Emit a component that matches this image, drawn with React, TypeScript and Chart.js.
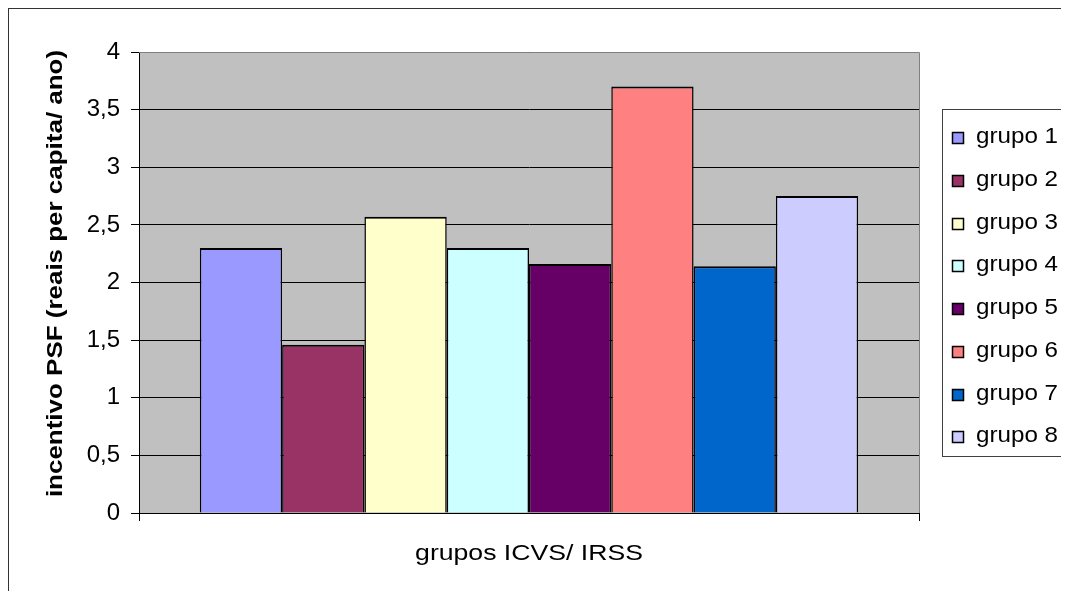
import React, { useEffect, useRef } from "react";
import { Chart, registerables } from "chart.js";

Chart.register(...registerables);

const categories: string[] = [""];
const seriesNames: string[] = ["grupo 1", "grupo 2", "grupo 3", "grupo 4", "grupo 5", "grupo 6", "grupo 7", "grupo 8"];
const seriesValues: number[] = [2.3, 1.46, 2.57, 2.3, 2.16, 3.7, 2.14, 2.75];
const seriesColors: string[] = ["#9999FF", "#993366", "#FFFFCC", "#CCFFFF", "#660066", "#FF8080", "#0066CC", "#CCCCFF"];
const yTitle = "incentivo PSF (reais per capita/ ano)";
const xTitle = "grupos ICVS/ IRSS";

const FONT = 'Arial, "Liberation Sans", sans-serif';

function stretchedText(
  ctx: CanvasRenderingContext2D,
  text: string,
  x: number,
  y: number,
  font: string,
  sx: number,
  rot: number,
  align: CanvasTextAlign,
  baseline: CanvasTextBaseline
) {
  ctx.save();
  ctx.translate(x, y);
  ctx.rotate(rot);
  ctx.scale(sx, 1);
  ctx.font = font;
  ctx.textAlign = align;
  ctx.textBaseline = baseline;
  ctx.fillStyle = "#000";
  ctx.fillText(text, 0, 0);
  ctx.restore();
}

const decor = {
  id: "decor",
  beforeDraw(chart: any) {
    const { ctx, chartArea: a } = chart;
    ctx.save();
    ctx.fillStyle = "#C0C0C0";
    ctx.fillRect(a.left, a.top, a.right - a.left, a.bottom - a.top);
    ctx.restore();
  },
  afterDraw(chart: any) {
    const { ctx, chartArea: a } = chart;
    ctx.save();
    ctx.strokeStyle = "#808080";
    ctx.lineWidth = 1;
    ctx.beginPath();
    ctx.moveTo(a.left, a.top + 0.5);
    ctx.lineTo(a.right + 0.5, a.top + 0.5);
    ctx.lineTo(a.right + 0.5, a.bottom);
    ctx.stroke();
    ctx.restore();

    // axis titles
    stretchedText(ctx, yTitle, 46.5, (a.top + a.bottom) / 2 - 9, "bold 22px " + FONT, 1.18, -Math.PI / 2, "center", "middle");
    stretchedText(ctx, xTitle, (a.left + a.right) / 2, 551, "22px " + FONT, 1.21, 0, "center", "alphabetic");

    // legend
    ctx.save();
    const lx = 933, ly = 100, lb = 447;
    ctx.strokeStyle = "#404040";
    ctx.lineWidth = 1;
    ctx.strokeRect(lx + 0.5, ly + 0.5, chart.width + 20, lb - ly);
    chart.data.datasets.forEach((ds: any, i: number) => {
      const base = 134.3 + 42.7 * i;
      const by = Math.round(base - 11) + 0.5;
      ctx.fillStyle = ds.backgroundColor;
      ctx.fillRect(943.5, by, 11, 11);
      ctx.strokeStyle = "#000";
      ctx.lineWidth = 1.5;
      ctx.strokeRect(943.5, by, 11, 11);
      stretchedText(ctx, ds.label, 967, base, "22px " + FONT, 1.1, 0, "left", "alphabetic");
    });
    ctx.restore();
  },
};

export default function App() {
  const ref = useRef<HTMLCanvasElement | null>(null);
  useEffect(() => {
    if (!ref.current) return;
    const chart = new Chart(ref.current, {
      type: "bar",
      data: {
        labels: categories,
        datasets: seriesNames.map((name, i) => ({
          label: name,
          data: [seriesValues[i]],
          backgroundColor: seriesColors[i],
          borderColor: "#000000",
          borderWidth: { top: 2, left: 1.5, right: 1.5, bottom: 0 },
          borderSkipped: false,
          barPercentage: 1,
          categoryPercentage: 0.844,
        })),
      },
      options: {
        responsive: false,
        animation: false,
        layout: { padding: { left: 0, top: 43, right: 150, bottom: 0 } },
        plugins: { legend: { display: false }, tooltip: { enabled: false } },
        scales: {
          x: {
            grid: { drawOnChartArea: false, drawTicks: true, tickLength: 8, color: "#000", offset: true },
            border: { color: "#000", width: 1 },
            ticks: { display: false },
            afterFit(scale: any) {
              scale.height = 78;
            },
          },
          y: {
            min: 0,
            max: 4,
            grid: { color: "#000", tickLength: 8 },
            border: { color: "#000", width: 1 },
            ticks: {
              stepSize: 0.5,
              color: "#000",
              padding: 11,
              font: { size: 24, family: FONT },
              callback: (v: any) => String(v).replace(".", ","),
            },
            afterFit(scale: any) {
              scale.width = 130;
            },
          },
        },
      },
      plugins: [decor],
    });
    return () => chart.destroy();
  }, []);
  return (
    <div
      style={{
        width: 1061,
        height: 583,
        boxSizing: "border-box",
        borderTop: "1px solid #333",
        borderLeft: "1px solid #333",
        overflow: "hidden",
      }}
    >
      <canvas ref={ref} width={1060} height={582} style={{ display: "block" }} />
    </div>
  );
}
